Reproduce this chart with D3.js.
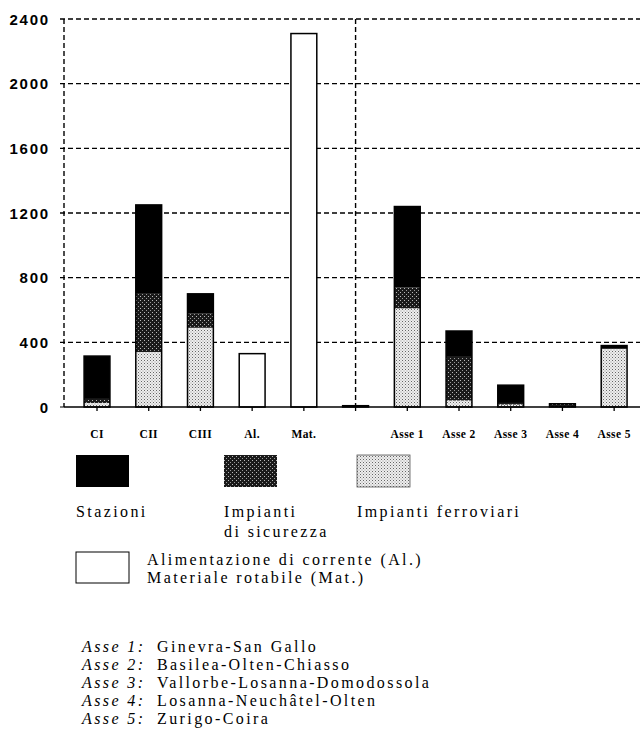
<!DOCTYPE html>
<html><head><meta charset="utf-8">
<script src="https://cdn.jsdelivr.net/npm/d3@7"></script>
<style>
body{margin:0;background:#fff;}
svg{display:block;}
</style></head>
<body>
<svg id="chart" width="644" height="733"></svg>
<script>
const categories = ["CI","CII","CIII","Al.","Mat.","","Asse 1","Asse 2","Asse 3","Asse 4","Asse 5"];
const ferroviari = [25, 340, 490, 0, 0, 0, 610, 40, 15, 0, 360];
const sicurezza  = [25, 360, 90, 0, 0, 0, 130, 270, 10, 20, 0];
const stazioni   = [265, 550, 120, 0, 0, 8, 500, 160, 110, 0, 20];
const altro      = [0, 0, 0, 330, 2310, 0, 0, 0, 0, 0, 0];
const yTicks = [0, 400, 800, 1200, 1600, 2000, 2400];
const legendItems = ["Stazioni", "Impianti|di sicurezza", "Impianti ferroviari"];
const legendWhite = ["Alimentazione di corrente (Al.)", "Materiale rotabile (Mat.)"];
const asseKeys = ["Asse 1:", "Asse 2:", "Asse 3:", "Asse 4:", "Asse 5:"];
const asseNames = ["Ginevra-San Gallo", "Basilea-Olten-Chiasso", "Vallorbe-Losanna-Domodossola", "Losanna-Neuchâtel-Olten", "Zurigo-Coira"];

const svg = d3.select("#chart");
const defs = svg.append("defs");
// dark stipple
const pd = defs.append("pattern").attr("id","pDark").attr("width",4).attr("height",4).attr("patternUnits","userSpaceOnUse");
pd.append("rect").attr("width",4).attr("height",4).attr("fill","#1a1a1a");
pd.append("rect").attr("x",0).attr("y",0).attr("width",1).attr("height",1).attr("fill","#bbb");
pd.append("rect").attr("x",2).attr("y",2).attr("width",1).attr("height",1).attr("fill","#999");
// light stipple
const pl = defs.append("pattern").attr("id","pLight").attr("width",3).attr("height",3).attr("patternUnits","userSpaceOnUse");
pl.append("rect").attr("width",3).attr("height",3).attr("fill","#eeeeee");
pl.append("rect").attr("x",0).attr("y",0).attr("width",1).attr("height",1).attr("fill","#666");
pl.append("rect").attr("x",1.5).attr("y",1.5).attr("width",1).attr("height",1).attr("fill","#999");

const x = d3.scaleBand().domain(categories).range([71.15, 640]).paddingInner(0.5).paddingOuter(0.25);
const y = d3.scaleLinear().domain([0, 2400]).range([407, 19]);

// gridlines
const gridG = svg.append("g");
yTicks.filter(t => t > 0).forEach(t => {
  gridG.append("line").attr("x1",60).attr("x2",640).attr("y1",y(t)).attr("y2",y(t))
    .attr("stroke","#000").attr("stroke-width",1.4).attr("stroke-dasharray","5,3");
});
// y axis dashed
svg.append("line").attr("x1",64).attr("x2",64).attr("y1",y(2400)).attr("y2",y(0))
  .attr("stroke","#000").attr("stroke-width",1.4).attr("stroke-dasharray","5,3");
// divider
const divX = x("") + x.bandwidth()/2;
svg.append("line").attr("x1",divX).attr("x2",divX).attr("y1",y(2400)).attr("y2",y(0))
  .attr("stroke","#000").attr("stroke-width",1.4).attr("stroke-dasharray","5,3");

// y labels
svg.append("g").selectAll("text").data(yTicks).join("text")
  .attr("x",50).attr("y",d=>y(d)+5.5).attr("text-anchor","end")
  .attr("font-family","'Liberation Sans', Arial, sans-serif").attr("font-weight","bold").attr("font-size",15)
  .attr("letter-spacing",1.8)
  .text(d=>d);
svg.append("line").attr("x1",60).attr("x2",64).attr("y1",y(0)).attr("y2",y(0)).attr("stroke","#000");

// bars
const barsG = svg.append("g");
categories.forEach((c, i) => {
  const segs = [
    {v: ferroviari[i], fill: "url(#pLight)"},
    {v: sicurezza[i], fill: "url(#pDark)"},
    {v: stazioni[i], fill: "#000"},
    {v: altro[i], fill: "#fff"}
  ];
  let base = 0;
  segs.forEach(s => {
    if (s.v > 0) {
      barsG.append("rect").attr("x", x(c)).attr("width", x.bandwidth())
        .attr("y", y(base + s.v)).attr("height", y(base) - y(base + s.v))
        .attr("fill", s.fill);
      base += s.v;
    }
  });
  if (base > 0) {
    barsG.append("rect").attr("x", x(c)).attr("width", x.bandwidth())
      .attr("y", y(base)).attr("height", y(0) - y(base))
      .attr("fill","none").attr("stroke","#000").attr("stroke-width",1.5);
  }
});

// baseline
svg.append("line").attr("x1",64).attr("x2",640).attr("y1",y(0)).attr("y2",y(0)).attr("stroke","#000").attr("stroke-width",1.5);
// x ticks and labels
const xg = svg.append("g");
categories.forEach(c => {
  const cx = x(c) + x.bandwidth()/2;
  xg.append("line").attr("x1",cx).attr("x2",cx).attr("y1",y(0)).attr("y2",y(0)+4).attr("stroke","#000").attr("stroke-width",1.3);
  xg.append("text").attr("x",cx).attr("y",438).attr("text-anchor","middle")
    .attr("font-family","'Liberation Serif', 'Times New Roman', serif").attr("font-weight","bold").attr("font-size",11.5)
    .attr("letter-spacing",0.4)
    .text(c);
});

// legend
const serif = "'Liberation Serif', 'Times New Roman', serif";
const LS = 2.4, FS = 16;
const legX = [76, 224, 357];
const legFills = ["#000", "url(#pDark)", "url(#pLight)"];
legendItems.forEach((t, i) => {
  svg.append("rect").attr("x",legX[i]).attr("y",455).attr("width",53).attr("height",32)
    .attr("fill",legFills[i]).attr("stroke", i===2 ? "#555" : "none").attr("stroke-width",0.8);
  t.split("|").forEach((line, j) => {
    svg.append("text").attr("x",legX[i]).attr("y",517 + j*20)
      .attr("font-family",serif).attr("font-size",FS).attr("letter-spacing",LS).text(line);
  });
});
svg.append("rect").attr("x",76).attr("y",552).attr("width",53).attr("height",31)
  .attr("fill","#fff").attr("stroke","#000").attr("stroke-width",1);
legendWhite.forEach((t, j) => {
  svg.append("text").attr("x",147).attr("y",565 + j*18)
    .attr("font-family",serif).attr("font-size",FS).attr("letter-spacing",LS).text(t);
});
asseKeys.forEach((k, j) => {
  const yy = 652 + j*18;
  svg.append("text").attr("x",82).attr("y",yy).attr("font-family",serif).attr("font-style","italic")
    .attr("font-size",FS).attr("letter-spacing",LS).text(k);
  svg.append("text").attr("x",157).attr("y",yy).attr("font-family",serif)
    .attr("font-size",FS).attr("letter-spacing",LS).text(asseNames[j]);
});
</script>
</body></html>
